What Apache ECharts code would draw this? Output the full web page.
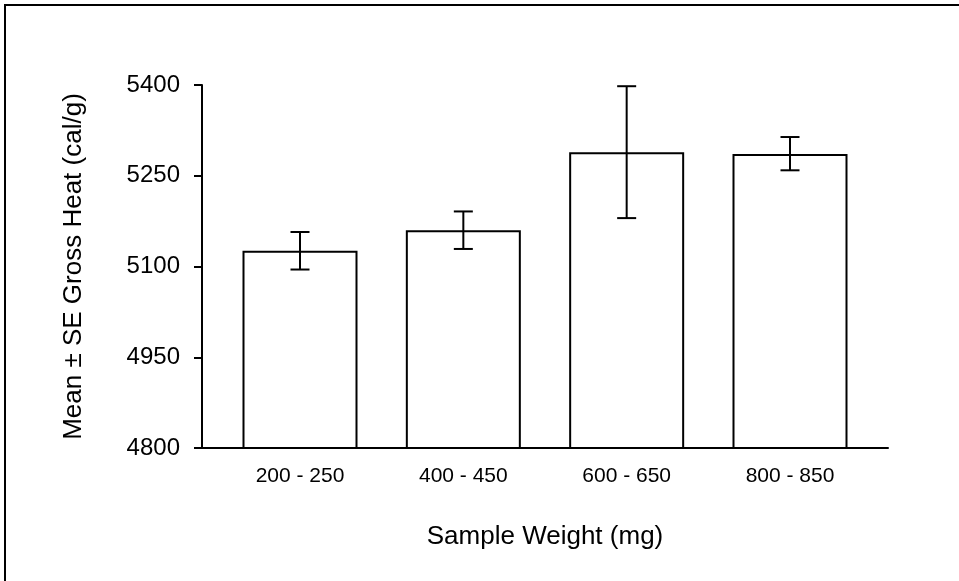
<!DOCTYPE html>
<html>
<head>
<meta charset="utf-8">
<script src="https://cdn.jsdelivr.net/npm/echarts@6/dist/echarts.min.js"></script>
<style>
  html, body { margin: 0; padding: 0; background: #fff; }
  #frame { position: absolute; left: 4px; top: 4px; width: 980px; height: 600px;
           border-left: 2px solid #000; border-top: 2px solid #000; box-sizing: border-box; }
  #chart { position: absolute; left: 0; top: 0; width: 959px; height: 581px; }
</style>
</head>
<body>
<div id="frame"></div>
<div id="chart"></div>
<script>
var categories = ['200 - 250', '400 - 450', '600 - 650', '800 - 850'];
var means = [5126, 5160, 5289, 5286];
var seLow = [5095, 5129, 5180, 5259];
var seHigh = [5157, 5191, 5398, 5314];
var yTicks = [4800, 4950, 5100, 5250, 5400];

var chart = echarts.init(document.getElementById('chart'), null, { renderer: 'canvas' });

var barData = means.map(function (v, i) { return [i, v]; });
var errData = means.map(function (v, i) { return [i, seLow[i], seHigh[i]]; });

var option = {
  backgroundColor: 'transparent',
  animation: false,
  grid: { left: 202, right: 71, top: 85, bottom: 133, containLabel: false },
  xAxis: {
    type: 'value',
    min: -0.6,
    max: 3.6,
    name: 'Sample Weight (mg)',
    nameLocation: 'middle',
    nameGap: 76,
    nameTextStyle: { fontFamily: 'Liberation Sans, Arial, sans-serif', fontSize: 26, color: '#000' },
    axisLine: { show: true, onZero: false, lineStyle: { color: '#000', width: 2 } },
    axisTick: { show: false },
    splitLine: { show: false },
    axisLabel: {
      customValues: [0, 1, 2, 3],
      formatter: function (v) { return categories[Math.round(v)] || ''; },
      fontFamily: 'Liberation Sans, Arial, sans-serif',
      fontSize: 21,
      color: '#000',
      margin: 18
    }
  },
  yAxis: {
    type: 'value',
    min: yTicks[0],
    max: yTicks[yTicks.length - 1],
    interval: 150,
    name: 'Mean \u00b1 SE Gross Heat (cal/g)',
    nameLocation: 'middle',
    nameGap: 115,
    nameTextStyle: { fontFamily: 'Liberation Sans, Arial, sans-serif', fontSize: 26, color: '#000' },
    axisLine: { show: true, onZero: false, lineStyle: { color: '#000', width: 2 } },
    axisTick: { show: true, inside: false, length: 8, lineStyle: { color: '#000', width: 2 } },
    splitLine: { show: false },
    axisLabel: {
      formatter: function (v) { return String(v); },
      fontFamily: 'Liberation Sans, Arial, sans-serif',
      fontSize: 24,
      color: '#000',
      margin: 22
    }
  },
  series: [
    {
      type: 'bar',
      data: barData,
      barWidth: 115,
      itemStyle: { color: '#fff', borderColor: '#000', borderWidth: 2 },
      z: 2
    },
    {
      type: 'custom',
      data: errData,
      z: 3,
      renderItem: function (params, api) {
        var x = api.value(0);
        var lo = api.coord([x, api.value(1)]);
        var hi = api.coord([x, api.value(2)]);
        var hw = 9.5;
        var style = { stroke: '#000', lineWidth: 2, fill: null };
        return {
          type: 'group',
          children: [
            { type: 'line', shape: { x1: hi[0], y1: hi[1], x2: lo[0], y2: lo[1] }, style: style },
            { type: 'line', shape: { x1: hi[0] - hw, y1: hi[1], x2: hi[0] + hw, y2: hi[1] }, style: style },
            { type: 'line', shape: { x1: lo[0] - hw, y1: lo[1], x2: lo[0] + hw, y2: lo[1] }, style: style }
          ]
        };
      }
    }
  ]
};
chart.setOption(option);
</script>
</body>
</html>
